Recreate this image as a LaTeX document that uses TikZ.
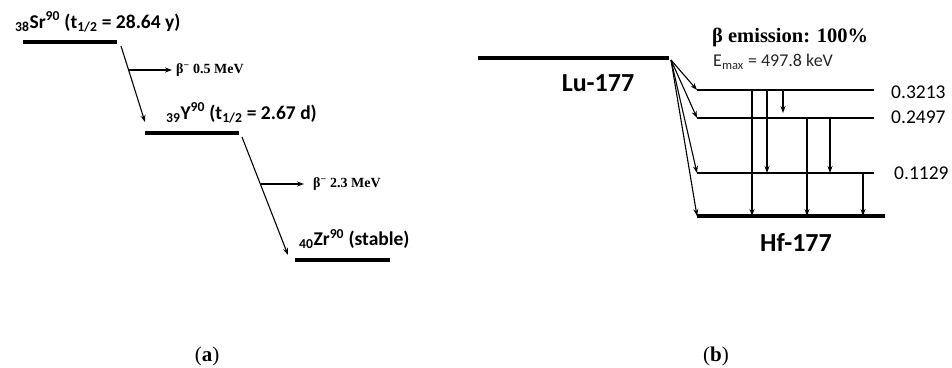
\documentclass[tikz,border=0pt]{standalone}
\usepackage{fontspec}
\setmainfont{Liberation Serif}
\newfontfamily\lblfont{Carlito}
\usetikzlibrary{arrows.meta}
\begin{document}
\begin{tikzpicture}[x=1pt,y=-1pt,
  thicklevel/.style={line width=4pt},
  thinlevel/.style={line width=1.2pt},
  decay/.style={line width=1.1pt,-{Stealth[length=7pt,width=5pt]}},
  emit/.style={line width=1.1pt,-{Stealth[length=7pt,width=5pt]}},
  iso/.style={font=\lblfont\bfseries\fontsize{19.5}{21}\selectfont,inner sep=0pt},
  betalbl/.style={font=\bfseries\fontsize{14}{16}\selectfont,inner sep=0pt,anchor=west},
  energy/.style={font=\lblfont\fontsize{19.5}{21}\selectfont,inner sep=0pt,anchor=west},
  captionlbl/.style={font=\fontsize{21}{23}\selectfont,inner sep=0pt}]
\useasboundingbox (0,0) rectangle (952,367);
% ---------- panel (a) ----------
\coordinate (srL) at (23,42);  \coordinate (srR) at (117,42);
\coordinate (yL) at (145,133); \coordinate (yR) at (239,133);
\coordinate (zrL) at (295,260); \coordinate (zrR) at (390,260);
\draw[thicklevel] (srL) -- (srR);
\draw[thicklevel] (yL) -- (yR);
\draw[thicklevel] (zrL) -- (zrR);
\node[iso,anchor=west] (sr) at (15,22) {\textsubscript{38}Sr\textsuperscript{90} (t\textsubscript{1/2} = 28.64 y)};
\node[iso,anchor=west] (y) at (166,113) {\textsubscript{39}Y\textsuperscript{90} (t\textsubscript{1/2} = 2.67 d)};
\node[iso,anchor=west] (zr) at (299,239) {\textsubscript{40}Zr\textsuperscript{90} (stable)};
\coordinate (d1s) at (121,46); \coordinate (d1e) at (145,122);
\draw[decay] (d1s) -- (d1e);
\coordinate (d2s) at (242,137); \coordinate (d2e) at (288,255);
\draw[decay] (d2s) -- (d2e);
\coordinate (b1s) at (129,70); \coordinate (b1e) at (172,70);
\draw[emit] (b1s) -- (b1e);
\node[betalbl] (b1) at (176,70) {β\textsuperscript{−} 0.5 MeV};
\coordinate (b2s) at (261,184); \coordinate (b2e) at (304,184);
\draw[emit] (b2s) -- (b2e);
\node[betalbl] (b2) at (313,184) {β\textsuperscript{−} 2.3 MeV};
\node[captionlbl] (capa) at (207,356) {(\textbf{a})};
% ---------- panel (b) ----------
\coordinate (luL) at (478,58); \coordinate (luR) at (669,58);
\draw[thicklevel] (luL) -- (luR);
\node[font=\lblfont\bfseries\fontsize{26}{28}\selectfont,inner sep=0pt] (lu) at (598,83) {Lu-177};
\node[font=\bfseries\fontsize{20.5}{22}\selectfont,inner sep=0pt,anchor=west] (bem) at (712,37) {β emission: 100\%};
\node[font=\lblfont\fontsize{18}{20}\selectfont,inner sep=0pt,anchor=west,text=black!85] (emax) at (713,62) {E\textsubscript{max} = 497.8 keV};
\coordinate (l3L) at (697,90);  \coordinate (l3R) at (874,90);
\coordinate (l2L) at (697,118); \coordinate (l2R) at (874,118);
\coordinate (l1L) at (697,173); \coordinate (l1R) at (874,173);
\coordinate (hfL) at (697,216); \coordinate (hfR) at (885,216);
\draw[thinlevel] (l3L) -- (l3R);
\draw[thinlevel] (l2L) -- (l2R);
\draw[thinlevel] (l1L) -- (l1R);
\draw[thicklevel] (hfL) -- (hfR);
\node[energy] (e3) at (891,92) {0.3213};
\node[energy] (e2) at (891,117) {0.2497};
\node[energy] (e1) at (894,173) {0.1129};
\node[font=\lblfont\bfseries\fontsize{26}{28}\selectfont,inner sep=0pt] (hf) at (796,242) {Hf-177};
\coordinate (src) at (671,60);
\draw[decay] (src) -- (l3L);
\draw[decay] (src) -- (l2L);
\draw[decay] (src) -- (l1L);
\draw[decay] (src) -- (hfL);
% gamma transitions
\coordinate (g1s) at (752,90);  \coordinate (g1e) at (752,216);
\coordinate (g2s) at (767,90);  \coordinate (g2e) at (767,173);
\coordinate (g3s) at (783,90);  \coordinate (g3e) at (783,113);
\coordinate (g4s) at (807,118); \coordinate (g4e) at (807,216);
\coordinate (g5s) at (830,118); \coordinate (g5e) at (830,173);
\coordinate (g6s) at (863,173); \coordinate (g6e) at (863,216);
\foreach \g in {1,...,6} \draw[decay] (g\g s) -- (g\g e);
\node[captionlbl] (capb) at (716,356) {(\textbf{b})};
\end{tikzpicture}
\end{document}
